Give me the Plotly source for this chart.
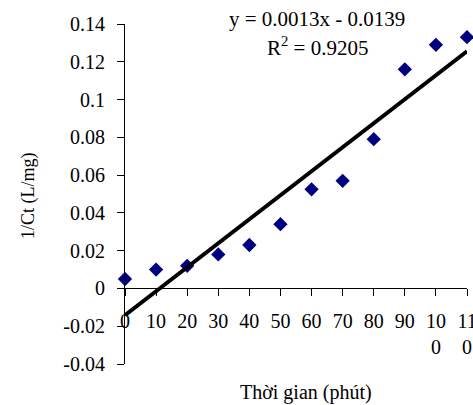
import numpy as np
import plotly.graph_objects as go

x_vals = [0, 10, 20, 30, 40, 50, 60, 70, 80, 90, 100, 110]
y_vals = [0.005, 0.010, 0.012, 0.018, 0.023, 0.034, 0.0525, 0.057, 0.079, 0.116, 0.129, 0.133]
x_ticktext = ["0", "10", "20", "30", "40", "50", "60", "70", "80", "90", "10<br>0", "11<br>0"]
y_tickvals = [0.14, 0.12, 0.10, 0.08, 0.06, 0.04, 0.02, 0, -0.02, -0.04]
y_ticktext = ["0.14", "0.12", "0.1", "0.08", "0.06", "0.04", "0.02", "0", "-0.02", "-0.04"]
eq_text = "y = 0.0013x - 0.0139"
r2_text = "R<sup>2</sup> = 0.9205"
x_title = "Thời gian (phút)"
y_title = "1/Ct (L/mg)"

slope, intercept = np.polyfit(x_vals, y_vals, 1)
line_x = [min(x_vals), max(x_vals)]
line_y = [slope * v + intercept for v in line_x]

FONT = "Liberation Serif"
FS = 20
W, H = 473, 405
ML, MR, MT, MB = 125, 6, 24, 41
ymin, ymax = -0.04, 0.14

fig = go.Figure()
fig.add_trace(go.Scatter(x=x_vals, y=y_vals, mode="markers",
                         marker=dict(symbol="diamond", size=11, color="#000080"),
                         cliponaxis=False, showlegend=False))
fig.add_trace(go.Scatter(x=line_x, y=line_y, mode="lines",
                         line=dict(color="black", width=4),
                         cliponaxis=False, showlegend=False))

pw = W - ML - MR
ph = H - MT - MB

def px_x(p):
    return (p - ML) / pw

def px_y(p):
    return (H - MB - p) / ph

fig.update_layout(
    width=W, height=H,
    margin=dict(l=ML, r=MR, t=MT, b=MB, pad=0, autoexpand=False),
    paper_bgcolor="white", plot_bgcolor="white",
    font=dict(family=FONT, size=FS, color="black"),
    xaxis=dict(range=[0, 110], tickvals=x_vals, ticktext=x_ticktext,
               showline=True, linecolor="black", linewidth=1,
               ticks="outside", ticklen=7, tickcolor="black",
               showgrid=False, zeroline=False, automargin=False,
               anchor="free", position=(0 - ymin) / (ymax - ymin),
               ticklabelstandoff=8, ticklabeloverflow="allow",
               tickfont=dict(family=FONT, size=FS)),
    yaxis=dict(range=[ymin, ymax], tickvals=y_tickvals, ticktext=y_ticktext,
               showline=True, linecolor="black", linewidth=1,
               ticks="outside", ticklen=7, tickcolor="black",
               showgrid=False, zeroline=False, automargin=False,
               ticklabelstandoff=8,
               tickfont=dict(family=FONT, size=FS)),
    annotations=[
        dict(text=eq_text, xref="paper", yref="paper", x=px_x(317), y=px_y(19),
             showarrow=False, xanchor="center", yanchor="middle",
             font=dict(family=FONT, size=21)),
        dict(text=r2_text, xref="paper", yref="paper", x=px_x(317), y=px_y(47),
             showarrow=False, xanchor="center", yanchor="middle",
             font=dict(family=FONT, size=21)),
        dict(text=x_title, xref="paper", yref="paper", x=px_x(306), y=px_y(392),
             showarrow=False, xanchor="center", yanchor="middle"),
        dict(text=y_title, xref="paper", yref="paper", x=px_x(28), y=px_y(196),
             showarrow=False, xanchor="center", yanchor="middle", textangle=-90,
             font=dict(family=FONT, size=18)),
    ],
)

fig.write_html("out.html")
